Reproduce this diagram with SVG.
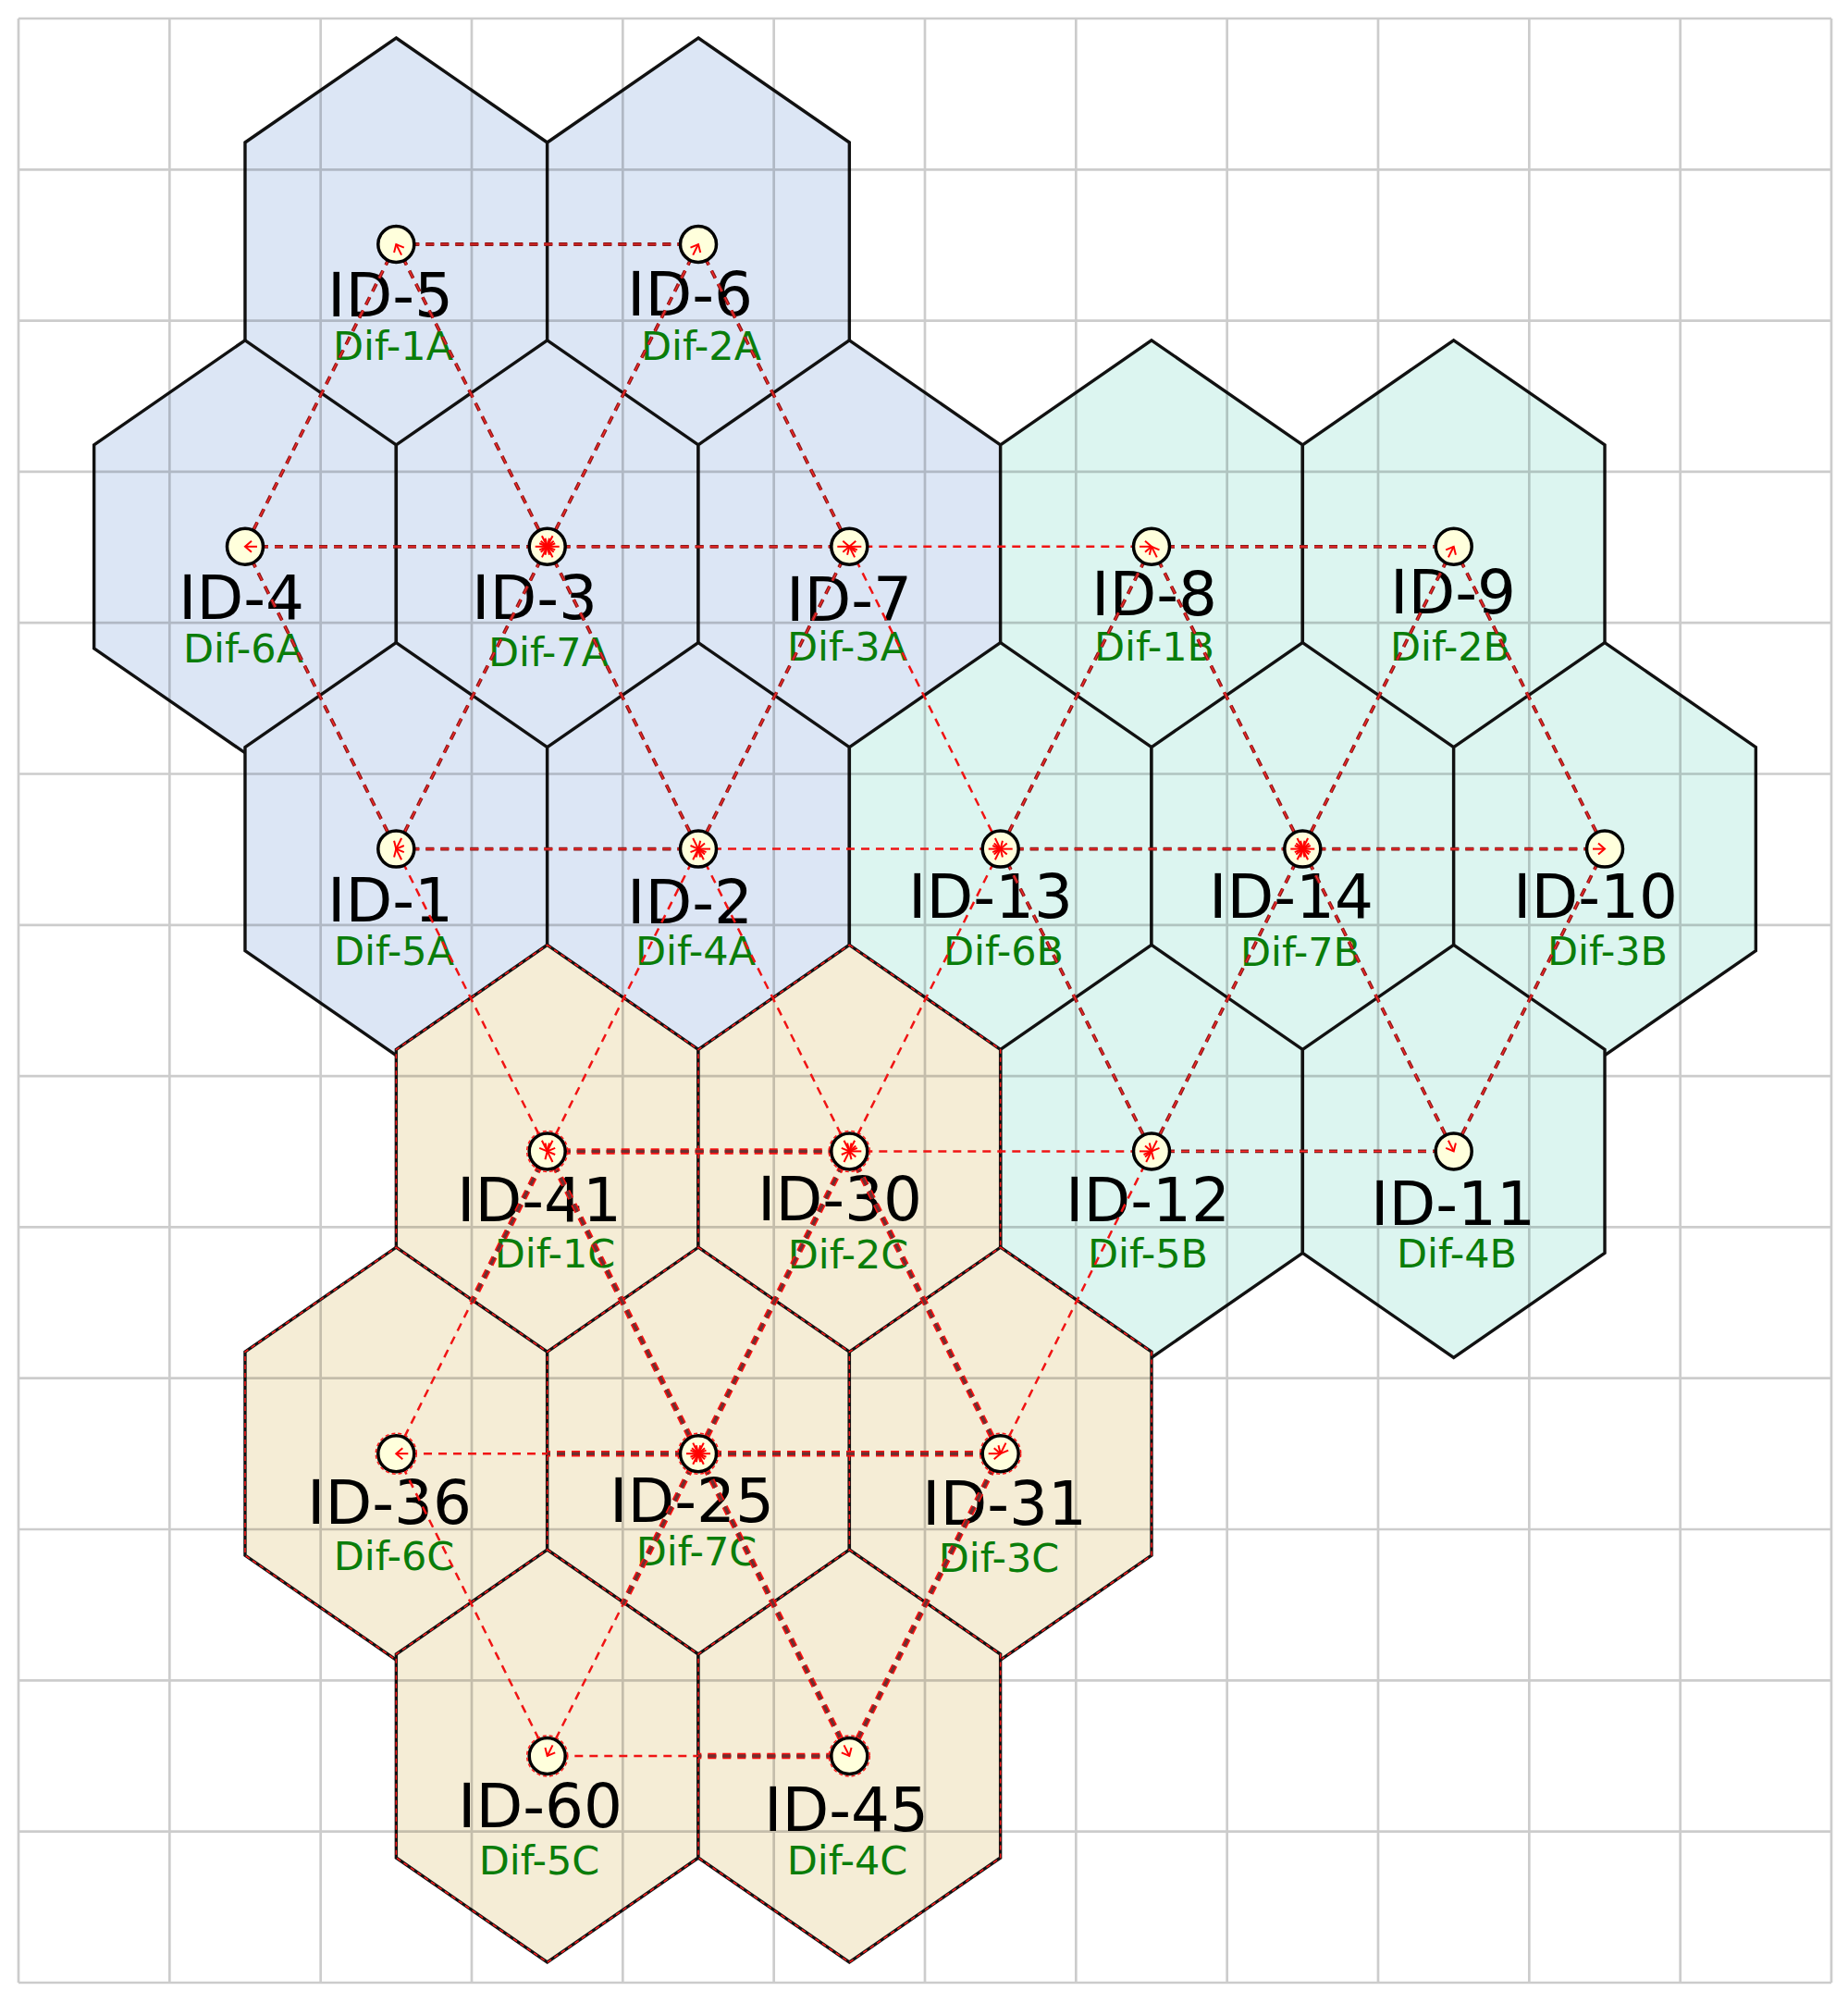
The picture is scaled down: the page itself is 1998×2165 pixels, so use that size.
<svg xmlns="http://www.w3.org/2000/svg" xmlns:xlink="http://www.w3.org/1999/xlink" width="1998" height="2165" viewBox="0 0 1998 2165">
<style>
.ha{fill:#dce6f5;stroke:#111;stroke-width:3.4;stroke-linejoin:miter}
.hb{fill:#dcf5f0;stroke:#111;stroke-width:3.4;stroke-linejoin:miter}
.hc{fill:#f5edd6;stroke:#111;stroke-width:3.4;stroke-linejoin:miter}
.hr{fill:none;stroke:#ff1a1a;stroke-width:1.5;stroke-dasharray:5 4}
.id{font-family:"DejaVu Sans",sans-serif;font-size:66px;fill:#000;text-anchor:middle}
.dif{font-family:"DejaVu Sans",sans-serif;font-size:43px;fill:#0a7d0a;text-anchor:middle}
.grid{fill:none;stroke:#000;stroke-opacity:0.2;stroke-width:2.7}
.base{fill:none;stroke:#f01414;stroke-width:2.5;stroke-dasharray:9 7}
.dk{fill:none;stroke:#8b1a1a;stroke-width:3.8;stroke-dasharray:9 7}
.rc{fill:none;stroke:#ff2a2a;stroke-width:1.2;stroke-dasharray:9 7}
.cg{fill:none;stroke:#ff1010;stroke-width:6.5;stroke-dasharray:9 7}
.cd{fill:none;stroke:#6e3030;stroke-width:3.4;stroke-dasharray:9 7}
.nd{fill:#ffffdc;stroke:#000;stroke-width:3.5}
.ndr{fill:none;stroke:#ff1a1a;stroke-width:1.5;stroke-dasharray:4 3}
.ah{fill:none;stroke:#ff0000;stroke-width:2;marker-end:url(#ah)}
</style>
<defs>
<polygon id="hx" points="0,-223 163.33,-110 163.33,110 0,223 -163.33,110 -163.33,-110"/>
<marker id="ah" markerUnits="userSpaceOnUse" markerWidth="20" markerHeight="20" viewBox="-10 -10 20 20" refX="0" refY="0" orient="auto" overflow="visible">
<path d="M-7,-6 L0,0 L-7,6" fill="none" stroke="#ff0000" stroke-width="2"/>
</marker>
<line id="h41-36" x1="591.7" y1="1244.4" x2="510" y2="1407.8"/>
<line id="h25-36" x1="755" y1="1571.2" x2="591.7" y2="1571.2"/>
<line id="h25-60" x1="755" y1="1571.2" x2="673.3" y2="1734.6"/>
<line id="h45-60" x1="918.3" y1="1898" x2="755" y2="1898"/>
</defs>
<rect x="0" y="0" width="1998" height="2165" fill="#ffffff"/>

<g id="cells">
<g id="cell-5"><use href="#hx" x="428.3" y="264" class="ha"/><text class="id" x="422" y="342">ID-5</text><text class="dif" x="425" y="389">Dif-1A</text></g>
<g id="cell-6"><use href="#hx" x="755" y="264" class="ha"/><text class="id" x="746" y="341">ID-6</text><text class="dif" x="758" y="389">Dif-2A</text></g>
<g id="cell-4"><use href="#hx" x="265" y="590.8" class="ha"/><text class="id" x="261" y="669">ID-4</text><text class="dif" x="263" y="716">Dif-6A</text></g>
<g id="cell-3"><use href="#hx" x="591.7" y="590.8" class="ha"/><text class="id" x="578" y="669">ID-3</text><text class="dif" x="593" y="720">Dif-7A</text></g>
<g id="cell-7"><use href="#hx" x="918.3" y="590.8" class="ha"/><text class="id" x="918" y="671">ID-7</text><text class="dif" x="916" y="714">Dif-3A</text></g>
<g id="cell-1"><use href="#hx" x="428.3" y="917.6" class="ha"/><text class="id" x="422" y="996">ID-1</text><text class="dif" x="426" y="1043">Dif-5A</text></g>
<g id="cell-2"><use href="#hx" x="755" y="917.6" class="ha"/><text class="id" x="746" y="998">ID-2</text><text class="dif" x="752" y="1043">Dif-4A</text></g>
<g id="cell-8"><use href="#hx" x="1245" y="590.8" class="hb"/><text class="id" x="1248" y="665">ID-8</text><text class="dif" x="1248" y="714">Dif-1B</text></g>
<g id="cell-9"><use href="#hx" x="1571.7" y="590.8" class="hb"/><text class="id" x="1571" y="663">ID-9</text><text class="dif" x="1568" y="714">Dif-2B</text></g>
<g id="cell-13"><use href="#hx" x="1081.7" y="917.6" class="hb"/><text class="id" x="1071" y="992">ID-13</text><text class="dif" x="1085" y="1043">Dif-6B</text></g>
<g id="cell-14"><use href="#hx" x="1408.3" y="917.6" class="hb"/><text class="id" x="1396" y="992">ID-14</text><text class="dif" x="1406" y="1044">Dif-7B</text></g>
<g id="cell-10"><use href="#hx" x="1735" y="917.6" class="hb"/><text class="id" x="1725" y="992">ID-10</text><text class="dif" x="1738" y="1043">Dif-3B</text></g>
<g id="cell-12"><use href="#hx" x="1245" y="1244.4" class="hb"/><text class="id" x="1241" y="1320">ID-12</text><text class="dif" x="1241" y="1370">Dif-5B</text></g>
<g id="cell-11"><use href="#hx" x="1571.7" y="1244.4" class="hb"/><text class="id" x="1571" y="1324">ID-11</text><text class="dif" x="1575" y="1370">Dif-4B</text></g>
<g id="cell-41"><use href="#hx" x="591.7" y="1244.4" class="hc"/><use href="#hx" x="591.7" y="1244.4" class="hr"/><text class="id" x="583" y="1320">ID-41</text><text class="dif" x="600" y="1370">Dif-1C</text></g>
<g id="cell-30"><use href="#hx" x="918.3" y="1244.4" class="hc"/><use href="#hx" x="918.3" y="1244.4" class="hr"/><text class="id" x="908" y="1319">ID-30</text><text class="dif" x="917" y="1371">Dif-2C</text></g>
<g id="cell-36"><use href="#hx" x="428.3" y="1571.2" class="hc"/><use href="#hx" x="428.3" y="1571.2" class="hr"/><text class="id" x="421" y="1647">ID-36</text><text class="dif" x="426" y="1697">Dif-6C</text></g>
<g id="cell-25"><use href="#hx" x="755" y="1571.2" class="hc"/><use href="#hx" x="755" y="1571.2" class="hr"/><text class="id" x="748" y="1645">ID-25</text><text class="dif" x="753" y="1692">Dif-7C</text></g>
<g id="cell-31"><use href="#hx" x="1081.7" y="1571.2" class="hc"/><use href="#hx" x="1081.7" y="1571.2" class="hr"/><text class="id" x="1086" y="1648">ID-31</text><text class="dif" x="1080" y="1699">Dif-3C</text></g>
<g id="cell-60"><use href="#hx" x="591.7" y="1898" class="hc"/><use href="#hx" x="591.7" y="1898" class="hr"/><text class="id" x="584" y="1975">ID-60</text><text class="dif" x="583" y="2026">Dif-5C</text></g>
<g id="cell-45"><use href="#hx" x="918.3" y="1898" class="hc"/><use href="#hx" x="918.3" y="1898" class="hr"/><text class="id" x="915" y="1979">ID-45</text><text class="dif" x="916" y="2026">Dif-4C</text></g>
</g>

<g id="grid">
<path class="grid" d="M20,20V2143M183.33,20V2143M346.67,20V2143M510,20V2143M673.33,20V2143M836.67,20V2143M1000,20V2143M1163.33,20V2143M1326.67,20V2143M1490,20V2143M1653.33,20V2143M1816.67,20V2143M1980,20V2143
M20,20H1980M20,183.3H1980M20,346.6H1980M20,509.9H1980M20,673.2H1980M20,836.5H1980M20,999.8H1980M20,1163.1H1980M20,1326.4H1980M20,1489.7H1980M20,1653H1980M20,1816.3H1980M20,1979.6H1980M20,2143H1980"/>
</g>

<g id="connectors">
<g class="base">
<line id="e5-6" x1="428.3" y1="264" x2="755" y2="264"/>
<line id="e5-4" x1="428.3" y1="264" x2="265" y2="590.8"/>
<line id="e5-3" x1="428.3" y1="264" x2="591.7" y2="590.8"/>
<line id="e6-3" x1="755" y1="264" x2="591.7" y2="590.8"/>
<line id="e6-7" x1="755" y1="264" x2="918.3" y2="590.8"/>
<line id="e4-3" x1="265" y1="590.8" x2="591.7" y2="590.8"/>
<line id="e3-7" x1="591.7" y1="590.8" x2="918.3" y2="590.8"/>
<line id="e4-1" x1="265" y1="590.8" x2="428.3" y2="917.6"/>
<line id="e3-1" x1="591.7" y1="590.8" x2="428.3" y2="917.6"/>
<line id="e3-2" x1="591.7" y1="590.8" x2="755" y2="917.6"/>
<line id="e7-2" x1="918.3" y1="590.8" x2="755" y2="917.6"/>
<line id="e1-2" x1="428.3" y1="917.6" x2="755" y2="917.6"/>
<line id="e8-9" x1="1245" y1="590.8" x2="1571.7" y2="590.8"/>
<line id="e8-13" x1="1245" y1="590.8" x2="1081.7" y2="917.6"/>
<line id="e8-14" x1="1245" y1="590.8" x2="1408.3" y2="917.6"/>
<line id="e9-14" x1="1571.7" y1="590.8" x2="1408.3" y2="917.6"/>
<line id="e9-10" x1="1571.7" y1="590.8" x2="1735" y2="917.6"/>
<line id="e13-14" x1="1081.7" y1="917.6" x2="1408.3" y2="917.6"/>
<line id="e14-10" x1="1408.3" y1="917.6" x2="1735" y2="917.6"/>
<line id="e13-12" x1="1081.7" y1="917.6" x2="1245" y2="1244.4"/>
<line id="e14-12" x1="1408.3" y1="917.6" x2="1245" y2="1244.4"/>
<line id="e14-11" x1="1408.3" y1="917.6" x2="1571.7" y2="1244.4"/>
<line id="e10-11" x1="1735" y1="917.6" x2="1571.7" y2="1244.4"/>
<line id="e12-11" x1="1245" y1="1244.4" x2="1571.7" y2="1244.4"/>
<line id="e41-30" x1="591.7" y1="1244.4" x2="918.3" y2="1244.4"/>
<line id="e41-36" x1="591.7" y1="1244.4" x2="428.3" y2="1571.2"/>
<line id="e41-25" x1="591.7" y1="1244.4" x2="755" y2="1571.2"/>
<line id="e30-25" x1="918.3" y1="1244.4" x2="755" y2="1571.2"/>
<line id="e30-31" x1="918.3" y1="1244.4" x2="1081.7" y2="1571.2"/>
<line id="e25-36" x1="755" y1="1571.2" x2="428.3" y2="1571.2"/>
<line id="e25-31" x1="755" y1="1571.2" x2="1081.7" y2="1571.2"/>
<line id="e36-60" x1="428.3" y1="1571.2" x2="591.7" y2="1898"/>
<line id="e25-60" x1="755" y1="1571.2" x2="591.7" y2="1898"/>
<line id="e25-45" x1="755" y1="1571.2" x2="918.3" y2="1898"/>
<line id="e31-45" x1="1081.7" y1="1571.2" x2="918.3" y2="1898"/>
<line id="e45-60" x1="918.3" y1="1898" x2="591.7" y2="1898"/>
<line id="e7-8" x1="918.3" y1="590.8" x2="1245" y2="590.8"/>
<line id="e7-13" x1="918.3" y1="590.8" x2="1081.7" y2="917.6"/>
<line id="e2-13" x1="755" y1="917.6" x2="1081.7" y2="917.6"/>
<line id="e1-41" x1="428.3" y1="917.6" x2="591.7" y2="1244.4"/>
<line id="e2-41" x1="755" y1="917.6" x2="591.7" y2="1244.4"/>
<line id="e2-30" x1="755" y1="917.6" x2="918.3" y2="1244.4"/>
<line id="e13-30" x1="1081.7" y1="917.6" x2="918.3" y2="1244.4"/>
<line id="e30-12" x1="918.3" y1="1244.4" x2="1245" y2="1244.4"/>
<line id="e12-31" x1="1245" y1="1244.4" x2="1081.7" y2="1571.2"/>
</g>
<g class="dk">
<use href="#e5-6"/><use href="#e5-4"/><use href="#e5-3"/><use href="#e6-3"/><use href="#e6-7"/><use href="#e4-3"/><use href="#e3-7"/><use href="#e4-1"/><use href="#e3-1"/><use href="#e3-2"/><use href="#e7-2"/><use href="#e1-2"/>
<use href="#e8-9"/><use href="#e8-13"/><use href="#e8-14"/><use href="#e9-14"/><use href="#e9-10"/><use href="#e13-14"/><use href="#e14-10"/><use href="#e13-12"/><use href="#e14-12"/><use href="#e14-11"/><use href="#e10-11"/><use href="#e12-11"/>
</g>
<g class="rc">
<use href="#e5-6"/><use href="#e5-4"/><use href="#e5-3"/><use href="#e6-3"/><use href="#e6-7"/><use href="#e4-3"/><use href="#e3-7"/><use href="#e4-1"/><use href="#e3-1"/><use href="#e3-2"/><use href="#e7-2"/><use href="#e1-2"/>
<use href="#e8-9"/><use href="#e8-13"/><use href="#e8-14"/><use href="#e9-14"/><use href="#e9-10"/><use href="#e13-14"/><use href="#e14-10"/><use href="#e13-12"/><use href="#e14-12"/><use href="#e14-11"/><use href="#e10-11"/><use href="#e12-11"/>
</g>
<g class="cg">
<use href="#e41-30"/><use href="#h41-36"/><use href="#e41-25"/><use href="#e30-25"/><use href="#e30-31"/><use href="#h25-36"/><use href="#e25-31"/><use href="#h25-60"/><use href="#e25-45"/><use href="#e31-45"/><use href="#h45-60"/>
</g>
<g class="cd">
<use href="#e41-30"/><use href="#h41-36"/><use href="#e41-25"/><use href="#e30-25"/><use href="#e30-31"/><use href="#h25-36"/><use href="#e25-31"/><use href="#h25-60"/><use href="#e25-45"/><use href="#e31-45"/><use href="#h45-60"/>
</g>
</g>

<g id="nodes">
<g id="node-5"><circle class="nd" cx="428.3" cy="264" r="19.5"/></g>
<g id="node-6"><circle class="nd" cx="755" cy="264" r="19.5"/></g>
<g id="node-4"><circle class="nd" cx="265" cy="590.8" r="19.5"/></g>
<g id="node-3"><circle class="nd" cx="591.7" cy="590.8" r="19.5"/></g>
<g id="node-7"><circle class="nd" cx="918.3" cy="590.8" r="19.5"/></g>
<g id="node-8"><circle class="nd" cx="1245" cy="590.8" r="19.5"/></g>
<g id="node-9"><circle class="nd" cx="1571.7" cy="590.8" r="19.5"/></g>
<g id="node-1"><circle class="nd" cx="428.3" cy="917.6" r="19.5"/></g>
<g id="node-2"><circle class="nd" cx="755" cy="917.6" r="19.5"/></g>
<g id="node-13"><circle class="nd" cx="1081.7" cy="917.6" r="19.5"/></g>
<g id="node-14"><circle class="nd" cx="1408.3" cy="917.6" r="19.5"/></g>
<g id="node-10"><circle class="nd" cx="1735" cy="917.6" r="19.5"/></g>
<g id="node-12"><circle class="nd" cx="1245" cy="1244.4" r="19.5"/></g>
<g id="node-11"><circle class="nd" cx="1571.7" cy="1244.4" r="19.5"/></g>
<g id="node-41"><circle class="nd" cx="591.7" cy="1244.4" r="19.5"/><circle class="ndr" cx="591.7" cy="1244.4" r="22"/></g>
<g id="node-30"><circle class="nd" cx="918.3" cy="1244.4" r="19.5"/><circle class="ndr" cx="918.3" cy="1244.4" r="22"/></g>
<g id="node-36"><circle class="nd" cx="428.3" cy="1571.2" r="19.5"/><circle class="ndr" cx="428.3" cy="1571.2" r="22"/></g>
<g id="node-25"><circle class="nd" cx="755" cy="1571.2" r="19.5"/><circle class="ndr" cx="755" cy="1571.2" r="22"/></g>
<g id="node-31"><circle class="nd" cx="1081.7" cy="1571.2" r="19.5"/><circle class="ndr" cx="1081.7" cy="1571.2" r="22"/></g>
<g id="node-60"><circle class="nd" cx="591.7" cy="1898" r="19.5"/><circle class="ndr" cx="591.7" cy="1898" r="22"/></g>
<g id="node-45"><circle class="nd" cx="918.3" cy="1898" r="19.5"/><circle class="ndr" cx="918.3" cy="1898" r="22"/></g>
</g>

<g id="arrowheads" class="ah">
<line x1="585.9" y1="579.2" x2="591.7" y2="590.8"/>
<line x1="597.5" y1="579.2" x2="591.7" y2="590.8"/>
<line x1="578.7" y1="590.8" x2="591.7" y2="590.8"/>
<line x1="604.7" y1="590.8" x2="591.7" y2="590.8"/>
<line x1="585.9" y1="602.4" x2="591.7" y2="590.8"/>
<line x1="597.5" y1="602.4" x2="591.7" y2="590.8"/>
<line x1="1402.5" y1="906" x2="1408.3" y2="917.6"/>
<line x1="1414.1" y1="906" x2="1408.3" y2="917.6"/>
<line x1="1395.3" y1="917.6" x2="1408.3" y2="917.6"/>
<line x1="1421.3" y1="917.6" x2="1408.3" y2="917.6"/>
<line x1="1402.5" y1="929.2" x2="1408.3" y2="917.6"/>
<line x1="1414.1" y1="929.2" x2="1408.3" y2="917.6"/>
<line x1="749.2" y1="1559.6" x2="755" y2="1571.2"/>
<line x1="760.8" y1="1559.6" x2="755" y2="1571.2"/>
<line x1="742" y1="1571.2" x2="755" y2="1571.2"/>
<line x1="768" y1="1571.2" x2="755" y2="1571.2"/>
<line x1="749.2" y1="1582.8" x2="755" y2="1571.2"/>
<line x1="760.8" y1="1582.8" x2="755" y2="1571.2"/>
<line x1="434.1" y1="275.6" x2="428.3" y2="264"/>
<line x1="749.2" y1="275.6" x2="755" y2="264"/>
<line x1="278" y1="590.8" x2="265" y2="590.8"/>
<line x1="905.3" y1="590.8" x2="918.3" y2="590.8"/>
<line x1="434.1" y1="906" x2="428.3" y2="917.6"/>
<line x1="749.2" y1="906" x2="755" y2="917.6"/>
<line x1="1250.8" y1="602.4" x2="1245" y2="590.8"/>
<line x1="1565.9" y1="602.4" x2="1571.7" y2="590.8"/>
<line x1="1094.7" y1="917.6" x2="1081.7" y2="917.6"/>
<line x1="1722" y1="917.6" x2="1735" y2="917.6"/>
<line x1="1250.8" y1="1232.8" x2="1245" y2="1244.4"/>
<line x1="1565.9" y1="1232.8" x2="1571.7" y2="1244.4"/>
<line x1="597.5" y1="1256" x2="591.7" y2="1244.4"/>
<line x1="912.5" y1="1256" x2="918.3" y2="1244.4"/>
<line x1="441.3" y1="1571.2" x2="428.3" y2="1571.2"/>
<line x1="1068.7" y1="1571.2" x2="1081.7" y2="1571.2"/>
<line x1="597.5" y1="1886.4" x2="591.7" y2="1898"/>
<line x1="912.5" y1="1886.4" x2="918.3" y2="1898"/>
<line x1="1232" y1="590.8" x2="1245" y2="590.8"/>
<line x1="931.3" y1="590.8" x2="918.3" y2="590.8"/>
<line x1="1075.9" y1="906" x2="1081.7" y2="917.6"/>
<line x1="924.1" y1="602.4" x2="918.3" y2="590.8"/>
<line x1="1068.7" y1="917.6" x2="1081.7" y2="917.6"/>
<line x1="768" y1="917.6" x2="755" y2="917.6"/>
<line x1="585.9" y1="1232.8" x2="591.7" y2="1244.4"/>
<line x1="434.1" y1="929.2" x2="428.3" y2="917.6"/>
<line x1="597.5" y1="1232.8" x2="591.7" y2="1244.4"/>
<line x1="749.2" y1="929.2" x2="755" y2="917.6"/>
<line x1="912.5" y1="1232.8" x2="918.3" y2="1244.4"/>
<line x1="760.8" y1="929.2" x2="755" y2="917.6"/>
<line x1="924.1" y1="1232.8" x2="918.3" y2="1244.4"/>
<line x1="1075.9" y1="929.2" x2="1081.7" y2="917.6"/>
<line x1="1232" y1="1244.4" x2="1245" y2="1244.4"/>
<line x1="931.3" y1="1244.4" x2="918.3" y2="1244.4"/>
<line x1="1087.5" y1="1559.6" x2="1081.7" y2="1571.2"/>
<line x1="1239.2" y1="1256" x2="1245" y2="1244.4"/>
</g>
</svg>
